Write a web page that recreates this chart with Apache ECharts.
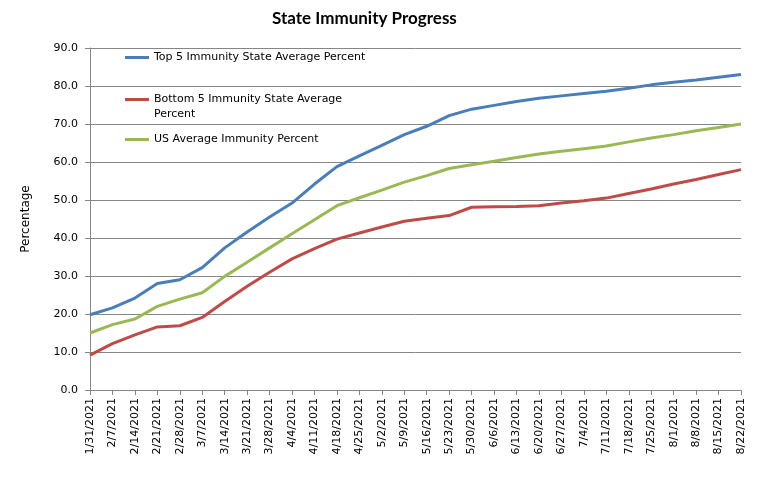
<!DOCTYPE html>
<html lang="en">
<head>
    <meta charset="UTF-8">
    <script type="text/javascript" src="https://cdn.jsdelivr.net/npm/echarts@6.0.0/dist/echarts.min.js"></script>
    <style>
        html, body {
            margin: 0;
            overflow: hidden;
            background: #fff;
        }
        #viewport {
            position: absolute;
            left: 0px;
            top: 0px;
            width: 770px;
            height: 480px;
        }
    </style>
</head>
<body>
<div id="viewport"></div>
<script>
    var weeks = ['1/31/2021', '2/7/2021', '2/14/2021', '2/21/2021', '2/28/2021', '3/7/2021',
        '3/14/2021', '3/21/2021', '3/28/2021', '4/4/2021', '4/11/2021', '4/18/2021', '4/25/2021',
        '5/2/2021', '5/9/2021', '5/16/2021', '5/23/2021', '5/30/2021', '6/6/2021', '6/13/2021',
        '6/20/2021', '6/27/2021', '7/4/2021', '7/11/2021', '7/18/2021', '7/25/2021', '8/1/2021',
        '8/8/2021', '8/15/2021', '8/22/2021'];

    var top5 = [19.8, 21.6, 24.2, 28.0, 29.0, 32.2, 37.4, 41.6, 45.5, 49.2, 54.2, 58.8, 61.6,
        64.4, 67.2, 69.4, 72.2, 73.9, 74.9, 75.9, 76.8, 77.4, 78.0, 78.6, 79.4, 80.3, 81.0,
        81.6, 82.3, 83.0];

    var bottom5 = [9.2, 12.2, 14.5, 16.6, 16.9, 19.1, 23.3, 27.3, 31.0, 34.5, 37.2, 39.7, 41.3,
        42.9, 44.4, 45.2, 45.9, 48.1, 48.2, 48.3, 48.5, 49.2, 49.8, 50.5, 51.7, 52.9, 54.2,
        55.4, 56.7, 58.0];

    var usAvg = [15.0, 17.2, 18.7, 22.0, 23.9, 25.6, 29.9, 33.6, 37.4, 41.1, 44.8, 48.5, 50.6,
        52.6, 54.7, 56.4, 58.3, 59.3, 60.2, 61.2, 62.1, 62.8, 63.5, 64.2, 65.3, 66.3, 67.2,
        68.2, 69.1, 70.0];

    var seriesNames = ['Top 5 Immunity State Average Percent',
        'Bottom 5 Immunity State Average Percent',
        'US Average Immunity Percent'];
    var colors = ['#4a7ebb', '#be4b48', '#98b954'];

    var font = 'DejaVu Sans';
    var gridColor = '#868686';

    function legendFor(idx, topPx, fmt) {
        return {
            data: [seriesNames[idx]],
            left: 125,
            top: topPx,
            icon: 'rect',
            itemWidth: 24,
            itemHeight: 3,
            itemGap: 0,
            padding: 0,
            formatter: fmt,
            textStyle: {
                fontFamily: font,
                fontSize: 11,
                color: '#000',
                lineHeight: 15
            }
        };
    }

    var myChart = echarts.init(document.getElementById('viewport'));

    var option = {
        animation: false,
        color: colors,
        title: {
            text: 'State Immunity Progress',
            left: 267,
            top: 5,
            textStyle: {
                fontFamily: 'Lato',
                fontSize: 17,
                fontWeight: 'bold',
                color: '#000'
            }
        },
        legend: [
            legendFor(0, 50),
            // blank first line keeps the icon level with the first text line
            legendFor(1, 77, ' \nBottom 5 Immunity State Average\nPercent'),
            legendFor(2, 132)
        ],
        grid: {
            left: 90,
            right: 29,
            top: 48,
            bottom: 90
        },
        xAxis: {
            type: 'category',
            data: weeks,
            boundaryGap: false,
            axisLine: {lineStyle: {color: gridColor, width: 1}},
            axisTick: {
                show: true,
                alignWithLabel: true,
                length: 5,
                lineStyle: {color: gridColor}
            },
            axisLabel: {
                rotate: 90,
                interval: 0,
                margin: 8,
                fontFamily: font,
                fontSize: 11,
                color: '#000'
            }
        },
        yAxis: {
            type: 'value',
            min: 0,
            max: 90,
            interval: 10,
            name: 'Percentage',
            nameLocation: 'middle',
            nameGap: 58,
            nameTextStyle: {
                fontFamily: font,
                fontSize: 12,
                color: '#000'
            },
            axisLine: {show: true, lineStyle: {color: gridColor, width: 1}},
            axisTick: {show: true, length: 5, lineStyle: {color: gridColor}},
            splitLine: {lineStyle: {color: gridColor, width: 1}},
            axisLabel: {
                fontFamily: font,
                fontSize: 11,
                color: '#000',
                margin: 12,
                formatter: function (v) { return v.toFixed(1); }
            }
        },
        series: [
            {name: seriesNames[0], type: 'line', data: top5, symbol: 'none', lineStyle: {width: 3}},
            {name: seriesNames[1], type: 'line', data: bottom5, symbol: 'none', lineStyle: {width: 3}},
            {name: seriesNames[2], type: 'line', data: usAvg, symbol: 'none', lineStyle: {width: 3}}
        ]
    };

    myChart.setOption(option);
</script>
</body>
</html>
